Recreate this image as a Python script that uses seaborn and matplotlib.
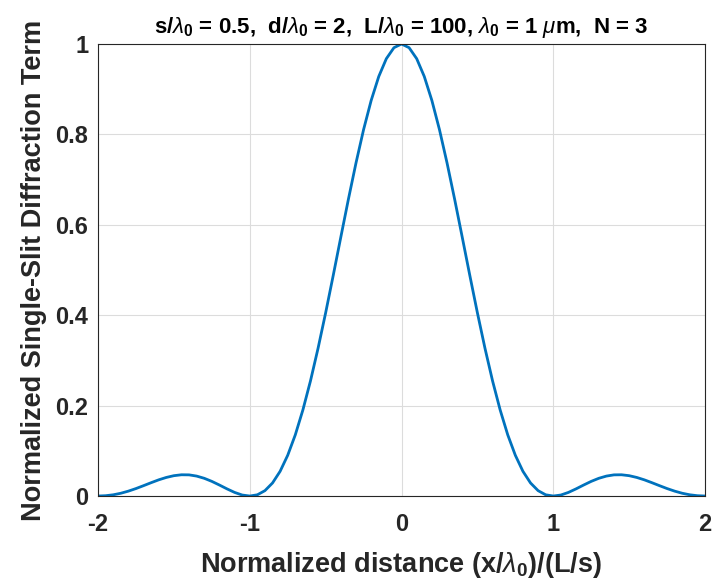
import matplotlib
matplotlib.use("Agg")
import matplotlib.pyplot as plt
import seaborn as sns
import pandas as pd

# normalized distance (x/lambda0)/(L/s)
x_pos = [-2.0, -1.95, -1.9, -1.85, -1.8, -1.75, -1.7, -1.65, -1.6, -1.55,
         -1.5, -1.45, -1.4, -1.35, -1.3, -1.25, -1.2, -1.15, -1.1, -1.05,
         -1.0, -0.95, -0.9, -0.85, -0.8, -0.75, -0.7, -0.65, -0.6, -0.55,
         -0.5, -0.45, -0.4, -0.35, -0.3, -0.25, -0.2, -0.15, -0.1, -0.05,
         0.0, 0.05, 0.1, 0.15, 0.2, 0.25, 0.3, 0.35, 0.4, 0.45,
         0.5, 0.55, 0.6, 0.65, 0.7, 0.75, 0.8, 0.85, 0.9, 0.95,
         1.0, 1.05, 1.1, 1.15, 1.2, 1.25, 1.3, 1.35, 1.4, 1.45,
         1.5, 1.55, 1.6, 1.65, 1.7, 1.75, 1.8, 1.85, 1.9, 1.95, 2.0]
# normalized single-slit diffraction term
term = [0.0, 0.0007, 0.0027, 0.0061, 0.0108, 0.0165, 0.0229, 0.0295, 0.0358, 0.0411,
        0.0450, 0.0470, 0.0468, 0.0441, 0.0392, 0.0324, 0.0243, 0.0158, 0.0080, 0.0022,
        0.0, 0.0027, 0.0119, 0.0289, 0.0547, 0.0901, 0.1353, 0.1904, 0.2546, 0.3268,
        0.4053, 0.4881, 0.5728, 0.6566, 0.7368, 0.8106, 0.8751, 0.9281, 0.9675, 0.9918,
        1.0, 0.9918, 0.9675, 0.9281, 0.8751, 0.8106, 0.7368, 0.6566, 0.5728, 0.4881,
        0.4053, 0.3268, 0.2546, 0.1904, 0.1353, 0.0901, 0.0547, 0.0289, 0.0119, 0.0027,
        0.0, 0.0022, 0.0080, 0.0158, 0.0243, 0.0324, 0.0392, 0.0441, 0.0468, 0.0470,
        0.0450, 0.0411, 0.0358, 0.0295, 0.0229, 0.0165, 0.0108, 0.0061, 0.0027, 0.0007, 0.0]

x_ticks = [-2, -1, 0, 1, 2]
x_ticklabels = ["-2", "-1", "0", "1", "2"]
y_ticks = [0, 0.2, 0.4, 0.6, 0.8, 1]
y_ticklabels = ["0", "0.2", "0.4", "0.6", "0.8", "1"]

df = pd.DataFrame({"x": x_pos, "term": term})

sns.set_theme(style="white")
plt.rcParams["font.family"] = ["Liberation Sans", "DejaVu Sans"]
plt.rcParams["mathtext.fontset"] = "custom"
plt.rcParams["mathtext.rm"] = "Liberation Sans:bold"
plt.rcParams["mathtext.it"] = "Liberation Sans:italic"

fig = plt.figure(figsize=(7.17, 5.85), dpi=100)
ax = fig.add_axes([0.1367, 0.1521, 0.8466, 0.7727])

sns.lineplot(data=df, x="x", y="term", ax=ax, color="#0072BD", linewidth=2)

ax.set_xlim(-2, 2)
ax.set_ylim(0, 1)
ax.set_xticks(x_ticks)
ax.set_xticklabels(x_ticklabels)
ax.set_yticks(y_ticks)
ax.set_yticklabels(y_ticklabels)
ax.grid(True, color="#dcdcdc", linewidth=0.8)
ax.tick_params(axis="both", labelsize=17, colors="#262626", direction="in",
               length=4, width=0.8)
ax.tick_params(axis="x", pad=12)
ax.tick_params(axis="y", pad=7)
for lab in ax.get_xticklabels() + ax.get_yticklabels():
    lab.set_fontweight("bold")
for sp in ax.spines.values():
    sp.set_color("#262626")
    sp.set_linewidth(0.8)

ax.set_xlabel(r"Normalized distance (x/$\lambda_0$)/(L/s)", fontsize=19.5,
              fontweight="bold", color="#262626", labelpad=10)
ax.set_ylabel("Normalized Single-Slit Diffraction Term", fontsize=19.5,
              fontweight="bold", color="#262626", labelpad=6)
ax.set_title(r"s/$\lambda_0$ = 0.5,  d/$\lambda_0$ = 2,  L/$\lambda_0$ = 100, $\lambda_0$ = 1 $\mu$m,  N = 3",
             fontsize=16, fontweight="bold", color="#000000", pad=8)

fig.savefig("out.png", dpi=100)
